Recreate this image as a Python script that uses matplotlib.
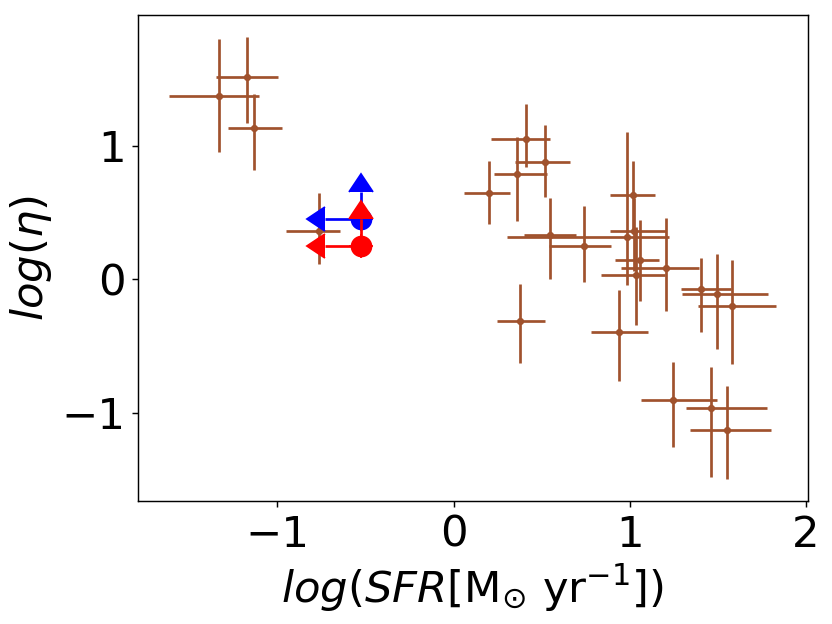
import numpy as np
import matplotlib
matplotlib.use('Agg')
import matplotlib.pyplot as plt

# Brown sample: log SFR, log eta and asymmetric errors (lower, upper)
log_sfr = [-1.330, -1.171, -1.131, -0.762, 0.410, 0.520, 0.361, 0.201, 0.548,
           0.986, 0.738, 0.379, 0.937, 1.015, 1.024, 1.056, 1.037, 1.204,
           1.403, 1.493, 1.582, 1.244, 1.462, 1.551]
log_eta = [1.373, 1.513, 1.130, 0.362, 1.050, 0.880, 0.788, 0.647, 0.330,
           0.315, 0.250, -0.310, -0.392, 0.630, 0.362, 0.148, 0.035, 0.085,
           -0.075, -0.113, -0.200, -0.900, -0.963, -1.125]
sfr_err_lo = [0.287, 0.175, 0.148, 0.190, 0.197, 0.169, 0.129, 0.140, 0.146,
              0.684, 0.197, 0.130, 0.159, 0.125, 0.135, 0.138, 0.199, 0.256,
              0.110, 0.199, 0.198, 0.178, 0.146, 0.207]
sfr_err_hi = [0.225, 0.176, 0.159, 0.116, 0.138, 0.138, 0.169, 0.120, 0.148,
              0.237, 0.157, 0.140, 0.167, 0.127, 0.179, 0.108, 0.161, 0.189,
              0.169, 0.288, 0.247, 0.249, 0.318, 0.250]
eta_err_lo = [0.420, 0.345, 0.310, 0.245, 0.208, 0.263, 0.353, 0.230, 0.330,
              0.355, 0.270, 0.318, 0.367, 0.270, 0.300, 0.310, 0.380, 0.325,
              0.320, 0.408, 0.433, 0.357, 0.515, 0.370]
eta_err_hi = [0.425, 0.300, 0.260, 0.285, 0.260, 0.275, 0.275, 0.240, 0.280,
              0.790, 0.300, 0.278, 0.310, 0.255, 0.245, 0.295, 0.355, 0.375,
              0.238, 0.300, 0.348, 0.280, 0.305, 0.323]

# Limits (upper limit in SFR, lower limit in eta)
blue_sfr, blue_eta = -0.527, 0.455
red_sfr, red_eta = -0.527, 0.250
lim_err = 0.2

fig = plt.figure(figsize=(6.4, 4.8), dpi=130)
ax = fig.add_axes([0.166, 0.197, 0.805, 0.779])

ax.errorbar(log_sfr, log_eta,
            xerr=[sfr_err_lo, sfr_err_hi], yerr=[eta_err_lo, eta_err_hi],
            fmt='o', color='sienna', ms=3, elinewidth=1.5)

ax.errorbar(blue_sfr, blue_eta, xerr=lim_err, yerr=lim_err,
            xuplims=True, lolims=True, fmt='o', color='blue', ms=11,
            capsize=6.5, zorder=3)
ax.errorbar(red_sfr, red_eta, xerr=lim_err, yerr=lim_err,
            xuplims=True, lolims=True, fmt='o', color='red', ms=11,
            capsize=6.5, zorder=4)

ax.set_xlim(-1.79, 2.01)
ax.set_ylim(-1.66, 1.98)
ax.set_xticks([-1, 0, 1, 2])
ax.set_yticks([-1, 0, 1])
ax.tick_params(labelsize=24)
ax.set_xlabel(r'$log(SFR[\mathrm{M_{\odot}\ yr^{-1}}])$', fontsize=24)
ax.set_ylabel(r'$log(\eta)$', fontsize=24)

fig.savefig('out.png', dpi=130)
